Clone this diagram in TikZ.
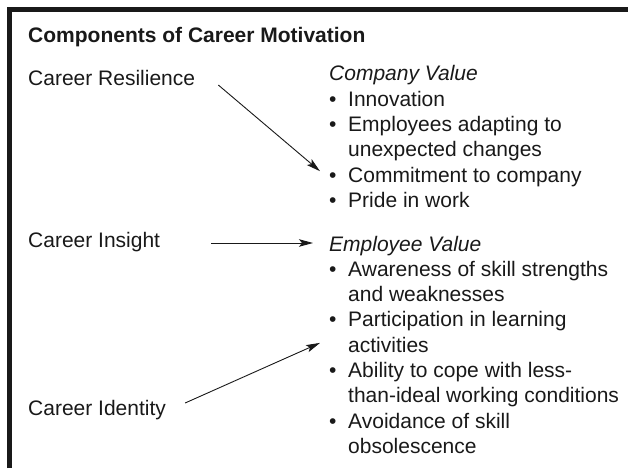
\documentclass[tikz,border=0pt]{standalone}
\usepackage{fontspec}
\setmainfont{Liberation Sans}
\usetikzlibrary{arrows.meta,calc}
\newcommand{\bitem}[1]{\makebox[19pt][l]{\textbullet}#1}
\newcommand{\bcont}[1]{\hspace*{19pt}#1}
\newcommand{\twolines}[2]{\begin{tabular}[t]{@{}l@{}}\bitem{#1}\\\bcont{#2}\end{tabular}}
\begin{document}
\begin{tikzpicture}[x=1pt,y=-1pt,
  txt/.style={anchor=base west, inner sep=0pt, font=\fontsize{21}{25.3}\selectfont, text=black!90},
  conn/.style={-{Stealth[length=14pt,width=7.5pt,inset=3pt]}, line width=0.9pt, draw=black!90}]
\useasboundingbox (0,0) rectangle (628,468);
\draw[line width=5pt, draw=black!90] (9.5,468) -- (9.5,9.5) -- (628,9.5);
\node[txt, font=\fontsize{21}{25.3}\selectfont\bfseries] (title) at (28,43) {Components of Career Motivation};
\node[txt] (res) at (28,85) {Career Resilience};
\node[txt] (ins) at (28,247) {Career Insight};
\node[txt] (idn) at (28,415) {Career Identity};
\node[txt] (cval) at (329,81) {\itshape Company Value};
\node[txt] (c1) at (329,106.3) {\bitem{Innovation}};
\node[txt] (c2) at (329,131.6) {\twolines{Employees adapting to}{unexpected changes}};
\node[txt] (c3) at (329,182.2) {\bitem{Commitment to company}};
\node[txt] (c4) at (329,207.5) {\bitem{Pride in work}};
\node[txt] (eval) at (329,251) {\itshape Employee Value};
\node[txt] (e1) at (329,276.3) {\twolines{Awareness of skill strengths}{and weaknesses}};
\node[txt] (e2) at (329,326.9) {\twolines{Participation in learning}{activities}};
\node[txt] (e3) at (329,377.5) {\twolines{Ability to cope with less-}{than-ideal working conditions}};
\node[txt] (e4) at (329,428.1) {\twolines{Avoidance of skill}{obsolescence}};
\draw[conn] ($(res.base east)+(23,0)$) -- ($(c3.base west)+(-9,-11)$);
\draw[conn] ($(ins.base east)+(51,-4)$) -- ($(eval.base west)+(-16,-8)$);
\draw[conn] ($(idn.base east)+(19,-12)$) -- ($(e2.base west)+(-9,16)$);
\end{tikzpicture}
\end{document}
